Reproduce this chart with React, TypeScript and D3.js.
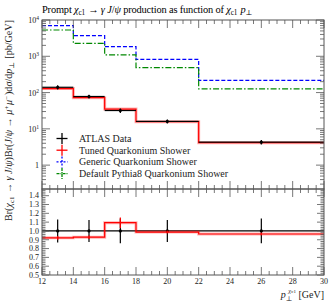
import * as d3 from 'd3'

// pT bins of chi_c1 [GeV]
const binEdges = [12, 14, 16, 18, 22, 30]
const atlasVals = [140, 78, 32, 16, 4.3]
const atlasRelErr = [0.13, 0.125, 0.14, 0.125, 0.14]
const tunedVals = [129, 72.5, 35, 15.8, 4.15]
const tunedRelErr = [0.02, 0.02, 0.06, 0.015, 0.015]
const genericVals = [7000, 3700, 1840, 826, 218]
const pythiaVals = [5300, 2280, 1090, 486, 126]

const xTicks = [12, 14, 16, 18, 20, 22, 24, 26, 28, 30]
const logDecades = [1, 10, 100, 1000, 10000]
const ratioTicks = [0.5, 0.6, 0.7, 0.8, 0.9, 1.0, 1.1, 1.2, 1.3, 1.4]

const W = 335, H = 302
const L = 42, R = 324, T = 20, MB = 189, RB = 275
const FONT = '"Liberation Serif", "DejaVu Serif", serif'
const FRAME = '#555'

const x = d3.scaleLinear([12, 30], [L, R])
const y = d3.scaleLog([0.22, 1e4], [MB, T])
const yr = d3.scaleLinear([0.5, 1.476], [RB, MB])

function stepPath(vals: number[], sy: (v: number) => number) {
  let d = ''
  vals.forEach((v, i) => {
    const x0 = x(binEdges[i]), x1 = x(binEdges[i + 1])
    d += (i === 0 ? `M${x0},${sy(v)}` : `L${x0},${sy(v)}`) + `L${x1},${sy(v)}`
  })
  return d
}

const mids = binEdges.slice(0, -1).map((e, i) => (e + binEdges[i + 1]) / 2)

function Ticks({ top, bottom }: { top: number; bottom: number }) {
  const minors = d3.range(12, 30.01, 0.5)
  return (
    <g stroke={FRAME} strokeWidth={0.8}>
      {minors.map((v) => {
        const major = Math.abs(v % 2) < 1e-6
        const len = major ? 8 : 4
        return (
          <g key={v}>
            <line x1={x(v)} x2={x(v)} y1={top} y2={top + len} />
            <line x1={x(v)} x2={x(v)} y1={bottom} y2={bottom - len} />
          </g>
        )
      })}
    </g>
  )
}

function Sub({ t }: { t: string }) {
  return <><tspan dy={2} fontSize="0.7em">{t}</tspan><tspan dy={-2}>{'\u200a'}</tspan></>
}
function Sup({ t }: { t: string }) {
  return <><tspan dy={-3.5} fontSize="0.7em">{t}</tspan><tspan dy={3.5}>{'\u200a'}</tspan></>
}

export default function App() {
  const logMinors: number[] = []
  for (let dec = 0.1; dec < 1e4; dec *= 10)
    for (let m = 2; m <= 9; m++) {
      const v = dec * m
      if (v >= 0.22 && v <= 1e4) logMinors.push(v)
    }
  const ratioMinors = d3.range(0.5, 1.47, 0.02)

  const ratio = tunedVals.map((v, i) => v / atlasVals[i])

  const legend = [
    { label: 'ATLAS Data', color: '#000', dash: undefined },
    { label: 'Tuned Quarkonium Shower', color: '#f00', dash: undefined },
    { label: 'Generic Quarkonium Shower', color: '#00f', dash: '2,1.5' },
    { label: 'Default Pythia8 Quarkonium Shower', color: '#080', dash: '3,1,1,1' },
  ]

  return (
    <svg width={W} height={H} style={{ position: 'absolute', left: 0, top: 0, fontFamily: FONT }}>
      <rect width={W} height={H} fill="#fff" />
      {/* title */}
      <text x={L} y={13} fontSize={10.4} fill="#000" textLength={211} lengthAdjust="spacing">
        Prompt <tspan fontStyle="italic">χ</tspan><Sub t="c1" /> → <tspan fontStyle="italic">γ J</tspan>/<tspan fontStyle="italic">ψ</tspan> production as function of <tspan fontStyle="italic">χ</tspan><Sub t="c1" /> <tspan fontStyle="italic">p</tspan><Sub t="⊥" />
      </text>

      {/* main panel */}
      <g>
        {/* generic */}
        <path d={stepPath(genericVals, y)} fill="none" stroke="#00f" strokeWidth={1.2} strokeDasharray="4,2" />
        {/* pythia default */}
        <path d={stepPath(pythiaVals, y)} fill="none" stroke="#080" strokeWidth={1.2} strokeDasharray="6,2,1.5,2" />
        {/* tuned */}
        <path d={stepPath(tunedVals, y)} fill="none" stroke="#f00" strokeOpacity={0.3} strokeWidth={3} />
        <path d={stepPath(tunedVals, y)} fill="none" stroke="#f00" strokeWidth={1.2} />
        {/* data */}
        {atlasVals.map((v, i) => (
          <g key={i} stroke="#000" strokeWidth={1.2}>
            <line x1={x(binEdges[i])} x2={x(binEdges[i + 1])} y1={y(v)} y2={y(v)} />
            <line x1={x(mids[i])} x2={x(mids[i])} y1={y(v * (1 - atlasRelErr[i]))} y2={y(v * (1 + atlasRelErr[i]))} />
            <circle cx={x(mids[i])} cy={y(v)} r={1.6} fill="#000" stroke="none" />
          </g>
        ))}
        {/* legend */}
        {legend.map((l, i) => {
          const cy = 138.5 + i * 11.7
          return (
            <g key={l.label}>
              <g stroke={l.color} strokeWidth={1.3} strokeDasharray={l.dash}>
                <line x1={56.5} x2={67.5} y1={cy} y2={cy} />
                <line x1={62} x2={62} y1={cy - 5.5} y2={cy + 5.5} />
              </g>
              <text x={79} y={cy + 3.3} fontSize={10} fill="#222">{l.label}</text>
            </g>
          )
        })}
        {/* y ticks */}
        <g stroke={FRAME} strokeWidth={0.8}>
          {logDecades.map((v) => (
            <g key={v}>
              <line x1={L} x2={L + 8} y1={y(v)} y2={y(v)} />
              <line x1={R} x2={R - 8} y1={y(v)} y2={y(v)} />
            </g>
          ))}
          {logMinors.map((v) => (
            <g key={v}>
              <line x1={L} x2={L + 4} y1={y(v)} y2={y(v)} />
              <line x1={R} x2={R - 4} y1={y(v)} y2={y(v)} />
            </g>
          ))}
        </g>
        {logDecades.map((v) => {
          const e = Math.round(Math.log10(v))
          return (
            <text key={v} x={L - 3} y={y(v) + 3} fontSize={8} textAnchor="end" fill="#222">
              {e === 0 ? '1' : <>10<tspan dy={-3} fontSize={5.5}>{e}</tspan></>}
            </text>
          )
        })}
        <Ticks top={T} bottom={MB} />
      </g>

      {/* ratio panel */}
      <g>
        <line x1={x(12)} x2={x(30)} y1={yr(1)} y2={yr(1)} stroke="#000" strokeWidth={1.2} />
        {mids.map((m, i) => (
          <g key={i}>
            <line x1={x(m)} x2={x(m)} y1={yr(1 - atlasRelErr[i])} y2={yr(1 + atlasRelErr[i])} stroke="#000" strokeWidth={1.2} />
            <circle cx={x(m)} cy={yr(1)} r={1.6} fill="#000" />
          </g>
        ))}
        <path d={stepPath(ratio, yr)} fill="none" stroke="#f00" strokeOpacity={0.3} strokeWidth={3} />
        <path d={stepPath(ratio, yr)} fill="none" stroke="#f00" strokeWidth={1.2} />
        {ratio.map((r, i) => (
          <line key={i} x1={x(mids[i])} x2={x(mids[i])} y1={yr(r - tunedRelErr[i])} y2={yr(r + tunedRelErr[i])} stroke="#f00" strokeWidth={1.2} />
        ))}
        <g stroke={FRAME} strokeWidth={0.8}>
          {ratioMinors.map((v) => {
            const major = Math.abs(v * 10 - Math.round(v * 10)) < 1e-6
            const len = major ? 7 : 3.5
            return (
              <g key={v}>
                <line x1={L} x2={L + len} y1={yr(v)} y2={yr(v)} />
                <line x1={R} x2={R - len} y1={yr(v)} y2={yr(v)} />
              </g>
            )
          })}
        </g>
        {ratioTicks.map((v) => (
          <text key={v} x={L - 3} y={yr(v) + 2.8} fontSize={8} textAnchor="end" fill="#222">{v.toFixed(1)}</text>
        ))}
        <Ticks top={MB} bottom={RB} />
        {xTicks.map((v) => (
          <text key={v} x={x(v)} y={RB + 9} fontSize={8} textAnchor="middle" fill="#222">{v}</text>
        ))}
      </g>

      {/* frames */}
      <rect x={L} y={T} width={R - L} height={MB - T} fill="none" stroke={FRAME} strokeWidth={1} />
      <rect x={L} y={MB} width={R - L} height={RB - MB} fill="none" stroke={FRAME} strokeWidth={1} />

      {/* axis labels */}
      <text x={R} y={298} fontSize={10} textAnchor="end" fill="#222">
        <tspan fontStyle="italic">p</tspan><tspan dy={2.5} fontSize={7}>⊥</tspan><tspan dy={-7.5} dx={-4} fontSize={6.5} fontStyle="italic">χ</tspan><tspan fontSize={5}>c1</tspan><tspan dy={5}> [GeV]</tspan>
      </text>
      <text transform={`translate(12,${T}) rotate(-90)`} fontSize={10.1} textAnchor="end" fill="#222">
        Br(<tspan fontStyle="italic">χ</tspan><Sub t="c1" /> → <tspan fontStyle="italic">γ J</tspan>/<tspan fontStyle="italic">ψ</tspan>)Br(<tspan fontStyle="italic">J</tspan>/<tspan fontStyle="italic">ψ</tspan> → <tspan fontStyle="italic">μ</tspan><Sup t="+" /><tspan fontStyle="italic">μ</tspan><Sup t="−" />)d<tspan fontStyle="italic">σ</tspan>/d<tspan fontStyle="italic">p</tspan><Sub t="⊥" /> [pb/GeV]
      </text>
    </svg>
  )
}
